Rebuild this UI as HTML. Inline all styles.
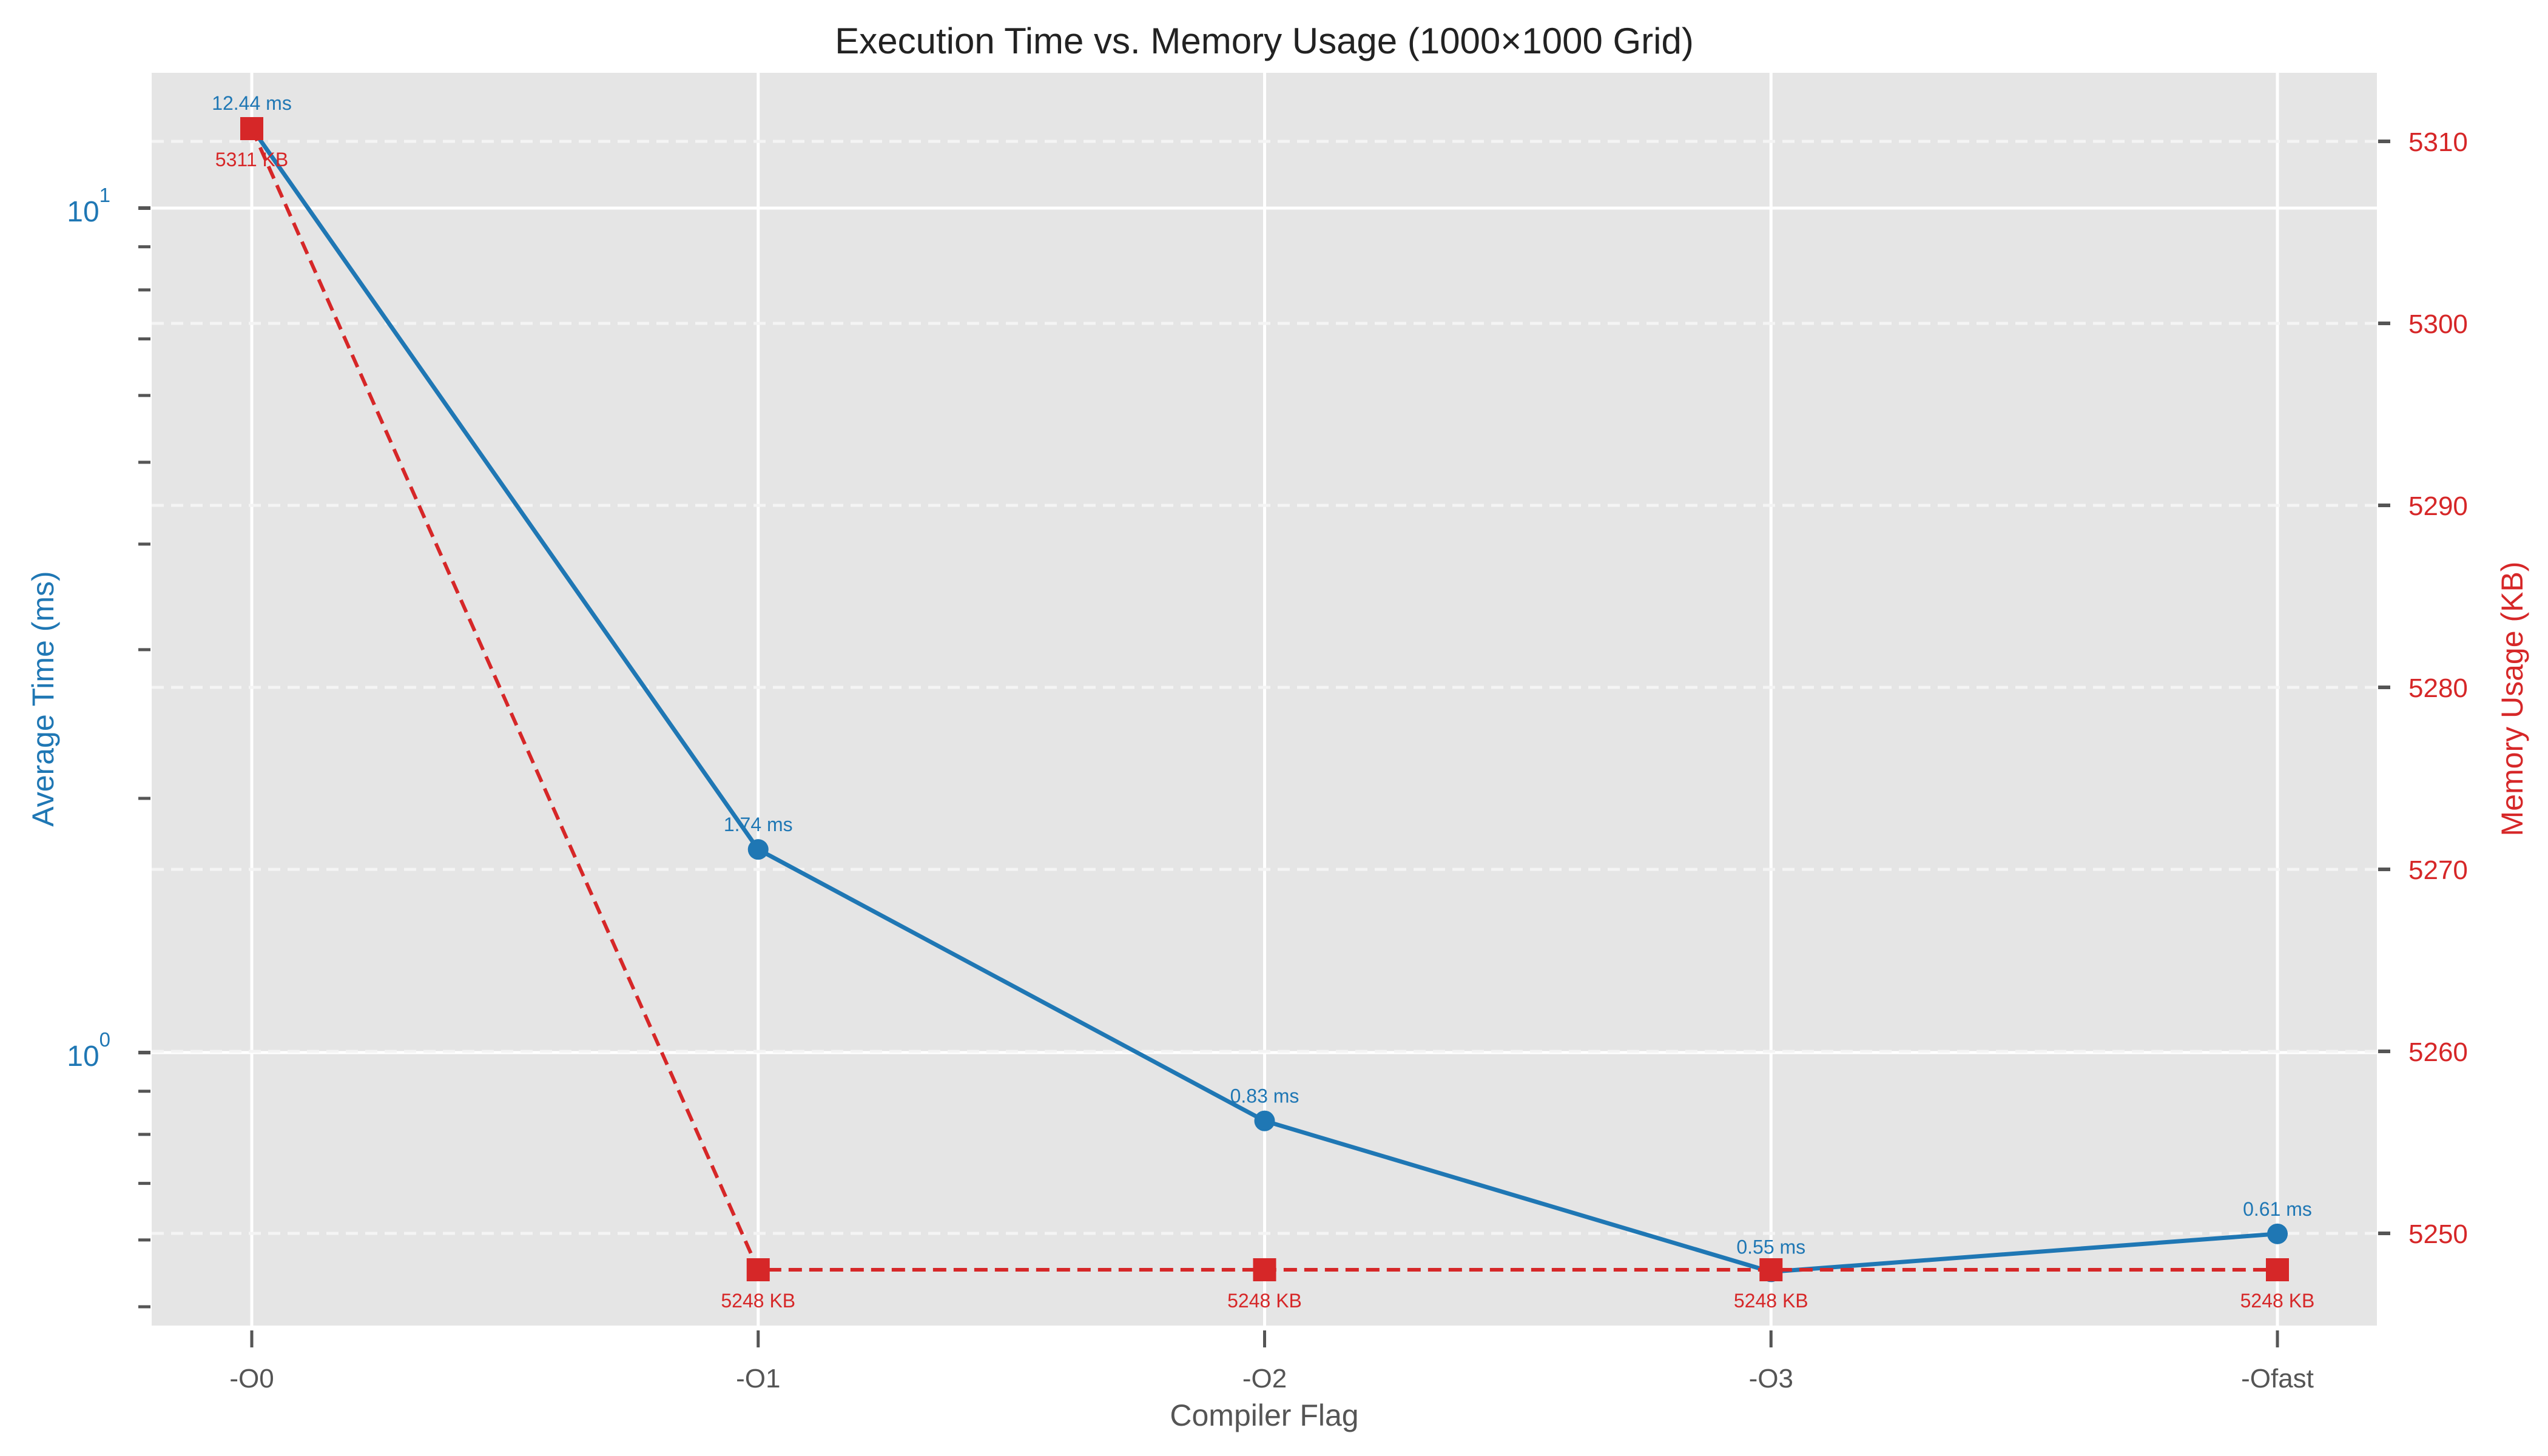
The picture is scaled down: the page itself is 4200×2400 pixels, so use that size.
<!DOCTYPE html>
<html><head><meta charset="utf-8"><style>
body{margin:0;background:#fff}
svg{display:block;font-family:"Liberation Sans",Arial,sans-serif}
</style></head><body>
<svg id="chart" width="4200" height="2400" viewBox="0 0 4200 2400">
<rect x="250" y="120" width="3668" height="2065" fill="#e5e5e5"/>
<g id="grid"></g><g id="axes"></g><g id="series"></g>
<text x="2084" y="88" font-size="60" text-anchor="middle" fill="#222">Execution Time vs. Memory Usage (1000×1000 Grid)</text>
<text x="2084" y="2350" font-size="50" text-anchor="middle" fill="#555">Compiler Flag</text>
<text transform="translate(88,1152) rotate(-90)" font-size="50" text-anchor="middle" fill="#1f77b4">Average Time (ms)</text>
<text transform="translate(4158,1152) rotate(-90)" font-size="50" text-anchor="middle" fill="#d62728">Memory Usage (KB)</text>
</svg>
<script>
const categories=["-O0","-O1","-O2","-O3","-Ofast"];
const timeValues=[12.44,1.74,0.83,0.55,0.61];
const memoryValues=[5310.7,5248,5248,5248,5248];
const memoryLabels=["5311 KB","5248 KB","5248 KB","5248 KB","5248 KB"];
const memTicks=[5250,5260,5270,5280,5290,5300,5310];
const NS="http://www.w3.org/2000/svg";
const L=250,R=3918,T=120,B=2185;
const x0=415,dx=834.75;
function xs(i){return x0+i*dx;}
function yl(v){return 343-1392*Math.log10(v/10);}
function yr(v){return 233+(5310-v)*30;}
function mk(tag,attrs,parent,text){const e=document.createElementNS(NS,tag);for(const k in attrs)e.setAttribute(k,attrs[k]);if(text!==undefined)e.textContent=text;parent.appendChild(e);return e;}
const grid=document.getElementById('grid'),axes=document.getElementById('axes'),ser=document.getElementById('series');
categories.forEach((c,i)=>{
 const g=mk('line',{x1:xs(i),x2:xs(i),y1:T,y2:B,stroke:'#fff','stroke-width':5},grid);
 
 const t=mk('line',{x1:xs(i),x2:xs(i),y1:B+8,y2:B+36,stroke:'#555','stroke-width':5},axes);
 
 const lb=mk('text',{x:xs(i),y:2287,'font-size':44,'text-anchor':'middle',fill:'#555'},axes,c);
 
});
[1,10].forEach(v=>{
 const g=mk('line',{x1:L,x2:R,y1:yl(v),y2:yl(v),stroke:'#fff','stroke-width':5},grid);
 
 const t=mk('line',{x1:L-22,x2:L-2,y1:yl(v),y2:yl(v),stroke:'#555','stroke-width':6},axes);
 
 const lb=mk('text',{x:182,y:yl(v)+22,'font-size':48,'text-anchor':'end',fill:'#1f77b4'},axes,'10');
 
 mk('tspan',{dy:-32,'font-size':33},lb,v===10?'1':'0');
});
[0.5,0.6,0.7,0.8,0.9,2,3,4,5,6,7,8,9].forEach(v=>{
 const t=mk('line',{x1:L-22,x2:L-2,y1:yl(v),y2:yl(v),stroke:'#555','stroke-width':5},axes);
 
});
memTicks.forEach(v=>{
 const g=mk('line',{x1:L,x2:R,y1:yr(v),y2:yr(v),stroke:'#f4f4f4','stroke-width':5,'stroke-dasharray':'20 12'},grid);
 
 const t=mk('line',{x1:R+2,x2:R+22,y1:yr(v),y2:yr(v),stroke:'#555','stroke-width':6},axes);
 
 const lb=mk('text',{x:3970,y:yr(v)+16,'font-size':44,fill:'#d62728'},axes,String(v));
 
});
const tp=timeValues.map((v,i)=>xs(i)+','+yl(v)).join(' ');
const tl=mk('polyline',{points:tp,fill:'none',stroke:'#1f77b4','stroke-width':7},ser);

timeValues.forEach((v,i)=>{
 const c=mk('circle',{cx:xs(i),cy:yl(v),r:17,fill:'#1f77b4'},ser);
 
});
const mp=memoryValues.map((v,i)=>xs(i)+','+yr(v)).join(' ');
const ml=mk('polyline',{points:mp,fill:'none',stroke:'#d62728','stroke-width':6,'stroke-dasharray':'22 12'},ser);

memoryValues.forEach((v,i)=>{
 const s=mk('rect',{x:xs(i)-19,y:yr(v)-19,width:38,height:38,fill:'#d62728'},ser);
 
});
timeValues.forEach((v,i)=>{
 const a=mk('text',{x:xs(i),y:yl(v)-30,'font-size':32,'text-anchor':'middle',fill:'#1f77b4'},ser,v.toFixed(2)+' ms');
 
});
memoryValues.forEach((v,i)=>{
 const a=mk('text',{x:xs(i),y:yr(v)+62,'font-size':32,'text-anchor':'middle',fill:'#d62728'},ser,memoryLabels[i]);
 
});
</script>
</body></html>
